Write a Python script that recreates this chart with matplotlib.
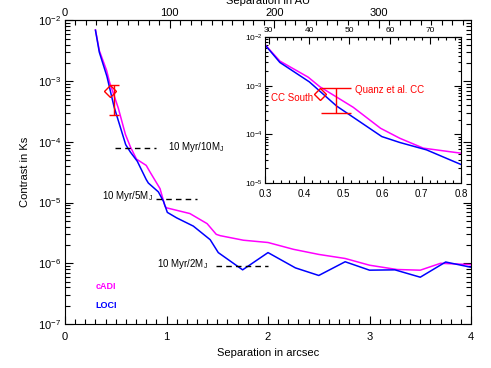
import numpy as np
import matplotlib
matplotlib.use('Agg')
import matplotlib.pyplot as plt
from matplotlib.ticker import MultipleLocator, FixedLocator, LogLocator, NullFormatter

plt.rcParams['font.family'] = ['Liberation Sans', 'DejaVu Sans']
plt.rcParams['mathtext.fontset'] = 'custom'
plt.rcParams['mathtext.rm'] = 'Liberation Sans'
plt.rcParams['mathtext.it'] = 'Liberation Sans:italic'
plt.rcParams['mathtext.bf'] = 'Liberation Sans:bold'

dist_pc = 97.0  # arcsec -> AU

# cADI contrast curve
cadi_sep = [0.30, 0.338, 0.41, 0.44, 0.525, 0.595, 0.644, 0.704, 0.80, 0.837,
            0.936, 0.985, 1.0, 1.23, 1.40, 1.49, 1.53, 1.757, 2.0, 2.25, 2.5,
            2.76, 3.0, 3.27, 3.5, 3.7, 4.0]
cadi_con = [7.0e-3, 3.2e-3, 1.5e-3, 9.5e-4, 3.6e-4, 1.33e-4, 8.3e-5, 5.2e-5,
            4.1e-5, 3.2e-5, 1.7e-5, 8.7e-6, 8.2e-6, 6.6e-6, 4.5e-6, 3.0e-6,
            2.85e-6, 2.4e-6, 2.2e-6, 1.7e-6, 1.4e-6, 1.2e-6, 9.3e-7, 7.9e-7,
            7.7e-7, 1.0e-6, 9.5e-7]

# LOCI contrast curve
loci_sep = [0.30, 0.338, 0.413, 0.483, 0.598, 0.644, 0.712, 0.80, 0.821, 0.92,
            0.97, 1.008, 1.10, 1.264, 1.43, 1.51, 1.75, 2.0, 2.27, 2.5, 2.76,
            3.0, 3.25, 3.5, 3.75, 4.0]
loci_con = [6.9e-3, 3.0e-3, 1.2e-3, 3.8e-4, 9.0e-5, 6.8e-5, 4.8e-5, 2.4e-5,
            2.1e-5, 1.5e-5, 1.05e-5, 6.9e-6, 5.6e-6, 4.1e-6, 2.45e-6, 1.5e-6,
            7.8e-7, 1.5e-6, 8.4e-7, 6.3e-7, 1.06e-6, 7.7e-7, 7.8e-7, 5.9e-7,
            1.05e-6, 8.6e-7]

# 10 Myr mass limits: level, start, end
mass_labels = ['10 Myr/10M$_\\mathregular{J}$', '10 Myr/5M$_\\mathregular{J}$',
               '10 Myr/2M$_\\mathregular{J}$']
mass_level = [7.8e-5, 1.15e-5, 8.9e-7]
mass_x0 = [0.49, 0.90, 1.49]
mass_x1 = [0.90, 1.30, 2.00]

# companion candidates
south_sep, south_con = 0.44, 6.9e-4
quanz_sep, quanz_lo, quanz_hi = 0.48, 2.75e-4, 8.8e-4

au_ticks = [0, 100, 200, 300]
au_ticks_inset = [30, 40, 50, 60, 70]


def draw_data(a, capsize):
    a.plot(cadi_sep, cadi_con, color='magenta', lw=1.1)
    a.plot(loci_sep, loci_con, color='blue', lw=1.1)
    a.errorbar([quanz_sep], [quanz_hi], yerr=[[quanz_hi - quanz_lo], [0]],
               fmt='none', ecolor='red', elinewidth=1, capsize=capsize,
               capthick=1)
    a.plot([south_sep], [south_con], 'D', mfc='none', mec='red', ms=6, mew=1)


fig = plt.figure(figsize=(4.91, 3.68), dpi=100)
ax = fig.add_axes([0.1324, 0.1196, 0.8269, 0.8247])
draw_data(ax, 3.3)

for lab, lev, x0, x1 in zip(mass_labels, mass_level, mass_x0, mass_x1):
    ax.hlines(lev, x0, x1, colors='k', linestyles=(0, (4, 3)), lw=1)
ax.text(1.01, 8.3e-5, mass_labels[0], fontsize=7, va='center', ha='left')
ax.text(0.87, 1.26e-5, mass_labels[1], fontsize=7, va='center', ha='right')
ax.text(1.41, 9.8e-7, mass_labels[2], fontsize=7, va='center', ha='right')

ax.text(0.30, 4.2e-7, 'cADI', color='magenta', fontsize=6.5,
        fontweight='bold', va='center')
ax.text(0.30, 2.0e-7, 'LOCI', color='blue', fontsize=6.5,
        fontweight='bold', va='center')

ax.set_yscale('log')
ax.set_xlim(0, 4)
ax.set_ylim(1e-7, 1e-2)
ax.xaxis.set_major_locator(MultipleLocator(1))
ax.xaxis.set_minor_locator(MultipleLocator(0.1))
ax.yaxis.set_major_locator(LogLocator(base=10, numticks=10))
ax.yaxis.set_minor_locator(LogLocator(base=10, subs=np.arange(2, 10), numticks=10))
ax.yaxis.set_minor_formatter(NullFormatter())
ax.tick_params(which='both', direction='in', top=False, right=True, labelsize=8)
ax.tick_params(axis='x', pad=6)
ax.tick_params(axis='y', pad=3)
ax.tick_params(which='major', length=6, width=0.8)
ax.tick_params(which='minor', length=3.3, width=0.8)

sec = ax.secondary_xaxis('top', functions=(lambda s: s * dist_pc, lambda au: au / dist_pc))
sec.xaxis.set_major_locator(FixedLocator(au_ticks))
sec.xaxis.set_minor_locator(FixedLocator(np.arange(0, 390, 10)))
sec.tick_params(which='both', direction='in', labelsize=8, pad=2)
sec.tick_params(which='major', length=6, width=0.8)
sec.tick_params(which='minor', length=3.3, width=0.8)

fig.text(268 / 491, 1 - 353 / 368, 'Separation in arcsec', fontsize=8,
         ha='center', va='center')
fig.text(268 / 491, 1 - 1 / 368, 'Separation in AU', fontsize=8,
         ha='center', va='center')
fig.text(25 / 491, 1 - 171.5 / 368, 'Contrast in Ks', fontsize=8,
         ha='center', va='center', rotation=90)

# inset zoom
ins = fig.add_axes([0.5397, 0.5027, 0.3992, 0.3967])
draw_data(ins, 11)
ins.text(0.4225, 5.7e-4, 'CC South', color='red', fontsize=7, ha='right', va='center')
ins.text(0.53, 8.2e-4, 'Quanz et al. CC', color='red', fontsize=7, ha='left', va='center')
ins.set_yscale('log')
ins.set_xlim(0.3, 0.8)
ins.set_ylim(1e-5, 1e-2)
ins.xaxis.set_major_locator(MultipleLocator(0.1))
ins.xaxis.set_minor_locator(MultipleLocator(0.02))
ins.yaxis.set_major_locator(LogLocator(base=10, numticks=10))
ins.yaxis.set_minor_locator(LogLocator(base=10, subs=np.arange(2, 10), numticks=10))
ins.yaxis.set_minor_formatter(NullFormatter())
ins.tick_params(which='both', direction='in', top=False, right=True)
ins.tick_params(axis='x', labelsize=7, pad=4)
ins.tick_params(axis='y', labelsize=6, pad=1.5)
ins.tick_params(which='major', length=5, width=0.8)
ins.tick_params(which='minor', length=2.5, width=0.8)

isec = ins.secondary_xaxis('top', functions=(lambda s: s * dist_pc, lambda au: au / dist_pc))
isec.xaxis.set_major_locator(FixedLocator(au_ticks_inset))
isec.xaxis.set_minor_locator(FixedLocator(np.arange(30, 78, 2)))
isec.tick_params(which='both', direction='in', labelsize=6, pad=2)
isec.tick_params(which='major', length=5, width=0.8)
isec.tick_params(which='minor', length=2.5, width=0.8)

fig.savefig('out.png', dpi=100)
